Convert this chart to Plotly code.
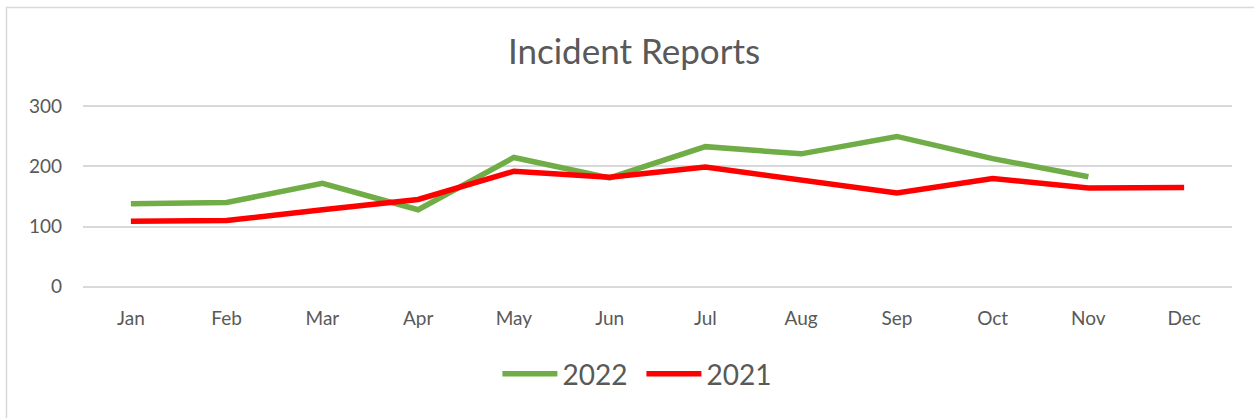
import plotly.graph_objects as go

months = ["Jan", "Feb", "Mar", "Apr", "May", "Jun", "Jul", "Aug", "Sep", "Oct", "Nov", "Dec"]
reports_2022 = [138, 140, 172, 128, 215, 181, 233, 221, 250, 213, 183, None]
reports_2021 = [109, 110, 128, 145, 192, 182, 199, 178, 156, 180, 164, 165]
y_ticks = [0, 100, 200, 300]

FONT = "Lato, 'Open Sans', sans-serif"
GREY_TEXT = "#595959"

fig = go.Figure()
fig.add_trace(go.Scatter(x=months, y=reports_2022, name="2022", mode="lines",
                         line=dict(color="#70ad47", width=5.5), connectgaps=False))
fig.add_trace(go.Scatter(x=months, y=reports_2021, name="2021", mode="lines",
                         line=dict(color="#ff0000", width=5.5)))

fig.update_layout(
    width=1254, height=418,
    margin=dict(l=83, r=22, t=104, b=129),
    paper_bgcolor="white", plot_bgcolor="white",
    title=dict(text="Incident Reports", x=634 / 1254, xanchor="center", y=1 - 52 / 418, yanchor="middle",
               xref="container", font=dict(family=FONT, size=35, color=GREY_TEXT)),
    font=dict(family=FONT, color=GREY_TEXT),
    showlegend=True,
    legend=dict(orientation="h", x=0.486, xanchor="center", y=-0.46, yanchor="middle",
                font=dict(family=FONT, size=28, color=GREY_TEXT), itemwidth=55,
                entrywidth=74, bgcolor="rgba(0,0,0,0)"),
    shapes=[dict(type="rect", xref="paper", yref="paper",
                 x0=-76.5 / 1149, x1=1.2, y0=-1.0, y1=1 + 96.5 / 185,
                 line=dict(color="#d9d9d9", width=1.5), fillcolor="rgba(0,0,0,0)", layer="below")],
)
fig.update_xaxes(showgrid=False, zeroline=False, showline=False, ticks="",
                 tickfont=dict(size=19, color=GREY_TEXT), ticklabelstandoff=16,
                 range=[-0.5, 11.5])
fig.update_yaxes(range=[-4, 304], tickvals=y_ticks, showgrid=True, gridcolor="#d9d9d9", gridwidth=1.5,
                 zeroline=False, showline=False, ticks="",
                 tickfont=dict(size=19, color=GREY_TEXT), ticklabelstandoff=20)

fig.write_html("out.html", post_script="document.body.style.margin='0';",
               config={"displayModeBar": False})
